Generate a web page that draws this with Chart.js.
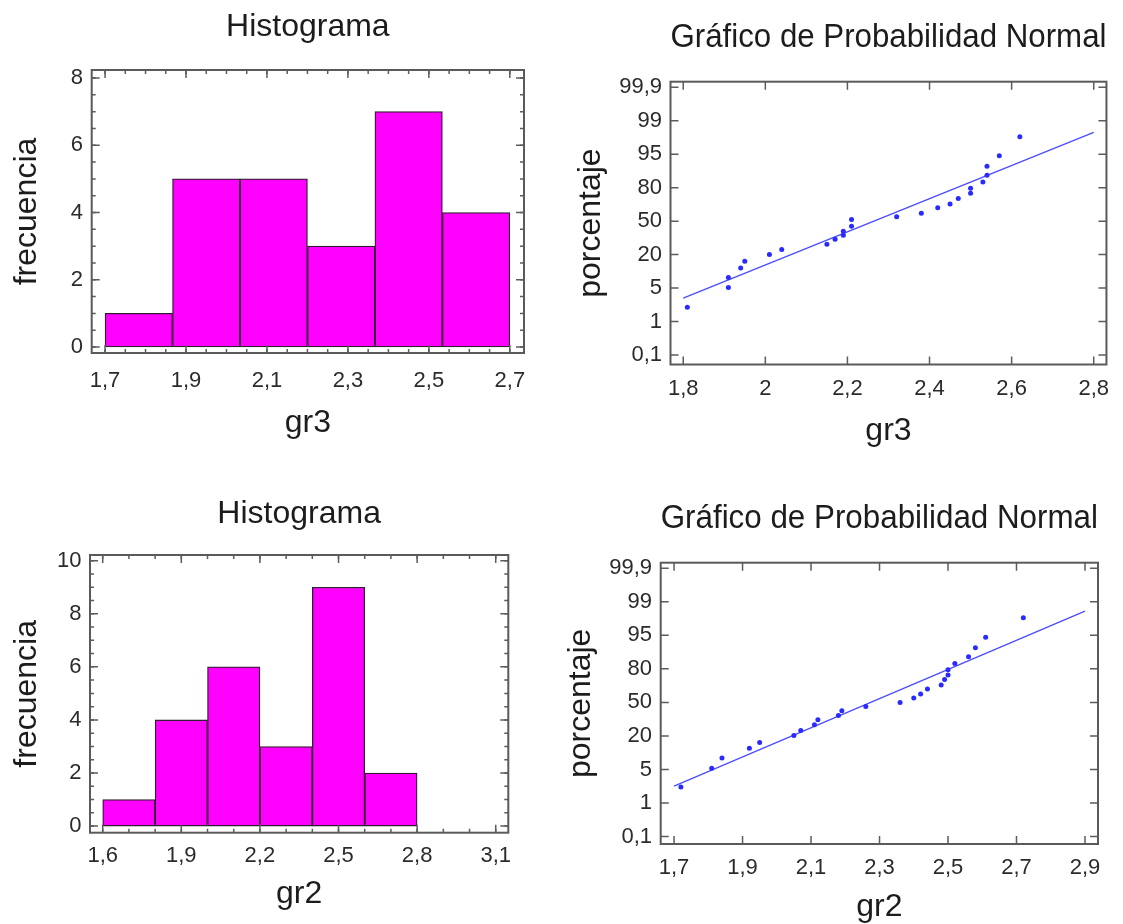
<!DOCTYPE html>
<html>
<head>
<meta charset="utf-8">
<script src="https://cdn.jsdelivr.net/npm/chart.js@4.4.0/dist/chart.umd.min.js"></script>
<style>
html,body{margin:0;padding:0;background:#fff;}
#wrap{position:relative;width:1123px;height:924px;overflow:hidden;background:#fff;}
#wrap canvas{position:absolute;left:0;top:0;}
</style>
</head>
<body>
<div id="wrap">
<canvas id="c1" width="1123" height="924"></canvas>
<canvas id="c2" width="1123" height="924"></canvas>
<canvas id="c3" width="1123" height="924"></canvas>
<canvas id="c4" width="1123" height="924"></canvas>
</div>
<script>
// ---------------- DATA ----------------
const histTitle = 'Histograma';
const probTitle = 'Gráfico de Probabilidad Normal';
const freqLabel = 'frecuencia';
const pctLabel = 'porcentaje';

// gr3 histogram
const gr3BinEdges = [1.7, 1.8667, 2.0333, 2.2, 2.3667, 2.5333, 2.7];
const gr3Counts = [1, 5, 5, 3, 7, 4];
const gr3HistXTicks = [1.7, 1.9, 2.1, 2.3, 2.5, 2.7];
const gr3HistYTicks = [0, 2, 4, 6, 8];

// gr2 histogram
const gr2BinEdges = [1.6, 1.8, 2.0, 2.2, 2.4, 2.6, 2.8];
const gr2Counts = [1, 4, 6, 3, 9, 2];
const gr2HistXTicks = [1.6, 1.9, 2.2, 2.5, 2.8, 3.1];
const gr2HistYTicks = [0, 2, 4, 6, 8, 10];

// normal probability axis labels (percent)
const probTickLabels = [0.1, 1, 5, 20, 50, 80, 95, 99, 99.9];

// gr3 normal probability plot
const gr3Values = [1.81, 1.91, 1.91, 1.94, 1.95, 2.01, 2.04, 2.15, 2.17, 2.19, 2.19, 2.21, 2.21, 2.32, 2.38, 2.42, 2.45, 2.47, 2.50, 2.50, 2.53, 2.54, 2.54, 2.57, 2.62];
const gr3Percent = [2.7, 5.2, 9.7, 14, 17, 20, 24.5, 29.3, 33.8, 37.4, 41, 45.5, 51.5, 54, 57, 62, 65.3, 70.4, 75, 79.4, 82.6, 85.6, 89.6, 94.3, 97.1];
const gr3FitX = [1.8, 2.8];
const gr3FitPercent = [3.8, 97.6];
const gr3ProbXTicks = [1.8, 2.0, 2.2, 2.4, 2.6, 2.8];

// gr2 normal probability plot
const gr2Values = [1.72, 1.81, 1.84, 1.92, 1.95, 2.05, 2.07, 2.11, 2.12, 2.18, 2.19, 2.26, 2.36, 2.40, 2.42, 2.44, 2.48, 2.49, 2.50, 2.50, 2.52, 2.56, 2.58, 2.61, 2.72];
const gr2Percent = [2.9, 5.5, 10.1, 14.5, 17.1, 20.3, 24.8, 29.9, 34.4, 38.3, 42.5, 46.4, 50, 53.9, 57.5, 62, 65.5, 70.4, 74.5, 79.2, 82.4, 85.4, 89.5, 94.2, 97.1];
const gr2FitX = [1.7, 2.9];
const gr2FitPercent = [3.0, 97.9];
const gr2ProbXTicks = [1.7, 1.9, 2.1, 2.3, 2.5, 2.7, 2.9];

// ---------------- HELPERS ----------------
const W = 1123, H = 924;
Chart.defaults.font.family = "'Liberation Sans', Arial, sans-serif";

function fmt(v) {
  return String(Math.round(v * 10) / 10).replace('.', ',');
}
// percent -> position on the (equally spaced label) probability axis
function pctToPos(p) {
  const t = probTickLabels;
  for (let k = 0; k < t.length - 1; k++) {
    if (p <= t[k + 1]) return k + (p - t[k]) / (t[k + 1] - t[k]);
  }
  return t.length - 1;
}
function binCenters(edges) {
  return edges.slice(0, -1).map((e, i) => (e + edges[i + 1]) / 2);
}

const frameTicks = {
  id: 'frameTicks',
  afterDraw(chart, args, o) {
    const {ctx, chartArea: a, scales: {x, y}} = chart;
    ctx.save();
    ctx.strokeStyle = '#5c5c5c';
    ctx.lineWidth = 1.5;
    const xt = (v, len) => {
      const p = x.getPixelForValue(v);
      ctx.beginPath();
      ctx.moveTo(p, a.bottom); ctx.lineTo(p, a.bottom - len);
      ctx.moveTo(p, a.top); ctx.lineTo(p, a.top + len);
      ctx.stroke();
    };
    const yt = (v, len) => {
      const p = y.getPixelForValue(v);
      ctx.beginPath();
      ctx.moveTo(a.left, p); ctx.lineTo(a.left + len, p);
      ctx.moveTo(a.right, p); ctx.lineTo(a.right - len, p);
      ctx.stroke();
    };
    if (o.xMinor) {
      for (let v = o.xMinor.from; v <= o.xMinor.to + 1e-9; v += o.xMinor.step) xt(v, 4);
    }
    if (o.yMinor) {
      for (let v = o.yMinor.from; v <= o.yMinor.to + 1e-9; v += o.yMinor.step) yt(v, 4);
    }
    (o.xMajor || []).forEach(v => xt(v, 8));
    (o.yMajor || []).forEach(v => yt(v, 8));
    ctx.lineWidth = 2;
    ctx.strokeStyle = '#5a5a5a';
    ctx.strokeRect(a.left, a.top, a.right - a.left, a.bottom - a.top);
    ctx.restore();
  }
};

function buildOptions(g, o) {
  const ts = o.titleSize;
  return {
    responsive: false,
    animation: false,
    devicePixelRatio: 1,
    layout: {padding: {left: g.yTitleX - 16, right: W - g.right, top: 0, bottom: H - (g.xTitleY + 16)}},
    plugins: {
      legend: {display: false},
      tooltip: {enabled: false},
      title: {
        display: true, text: o.title, fullSize: false, color: '#1c1c1c',
        font: {size: ts, lineHeight: 1, weight: 'normal'},
        padding: {top: g.titleY - ts / 2, bottom: g.top - g.titleY - ts / 2}
      },
      frameTicks: o.frame
    },
    scales: {
      x: {
        type: 'linear', min: g.xMin, max: g.xMax, offset: false,
        afterBuildTicks: s => { s.ticks = o.xTicks.map(v => ({value: v})); },
        afterFit: s => { s.height = g.xTitleY + 16 - g.bottom; },
        ticks: {autoSkip: false, maxRotation: 0, minRotation: 0, padding: g.xLabelY - g.bottom - 11,
          color: '#2b2b2b', font: {size: 22, lineHeight: 1}, callback: v => fmt(v)},
        grid: {display: false, drawTicks: false},
        border: {display: false},
        title: {display: true, text: o.xTitle, color: '#1c1c1c', font: {size: 32, lineHeight: 1}, padding: 0}
      },
      y: {
        type: 'linear', min: g.yMin, max: g.yMax,
        afterBuildTicks: s => { s.ticks = o.yTicks.map(v => ({value: v})); },
        afterFit: s => { s.width = g.left - (g.yTitleX - 16); },
        ticks: {autoSkip: false, padding: g.left - g.yLabelRight, color: '#2b2b2b',
          font: {size: 22, lineHeight: 1}, callback: o.yFormat},
        grid: {display: false, drawTicks: false},
        border: {display: false},
        title: {display: true, text: o.yTitle, color: '#1c1c1c', font: {size: 32, lineHeight: 1}, padding: 0}
      }
    }
  };
}

function makeHist(id, g, edges, counts, xTicks, yTicks, xTitle) {
  const centers = binCenters(edges);
  new Chart(document.getElementById(id), {
    type: 'bar',
    data: {
      datasets: [{
        data: centers.map((c, i) => ({x: c, y: counts[i]})),
        backgroundColor: '#ff00ff',
        borderColor: '#2e1e2e',
        borderWidth: 1.3,
        borderSkipped: false,
        barPercentage: 1,
        categoryPercentage: 1
      }]
    },
    options: buildOptions(g, {
      title: histTitle, titleSize: 32, xTitle: xTitle, yTitle: freqLabel,
      xTicks: xTicks, yTicks: yTicks, yFormat: v => fmt(v),
      frame: {
        xMajor: xTicks, yMajor: yTicks,
        xMinor: g.xMinor, yMinor: g.yMinor
      }
    }),
    plugins: [frameTicks]
  });
}

function makeProb(id, g, vals, pcts, fitX, fitP, xTicks, xTitle) {
  const idxTicks = probTickLabels.map((p, i) => i);
  new Chart(document.getElementById(id), {
    type: 'scatter',
    data: {
      datasets: [
        {
          data: vals.map((v, i) => ({x: v, y: pctToPos(pcts[i])})),
          pointRadius: 2.5, pointBackgroundColor: '#2a2aff', pointBorderWidth: 0,
          showLine: false
        },
        {
          data: fitX.map((v, i) => ({x: v, y: pctToPos(fitP[i])})),
          showLine: true, pointRadius: 0, borderColor: '#4b4bff', borderWidth: 1.3, fill: false
        }
      ]
    },
    options: buildOptions(g, {
      title: probTitle, titleSize: 33, xTitle: xTitle, yTitle: pctLabel,
      xTicks: xTicks, yTicks: idxTicks, yFormat: v => fmt(probTickLabels[Math.round(v)]),
      frame: {xMajor: xTicks, yMajor: idxTicks}
    }),
    plugins: [frameTicks]
  });
}

// ---------------- PANELS ----------------
makeHist('c1', {
  left: 91.7, right: 524, top: 70, bottom: 353,
  xMin: 1.667, xMax: 2.735, yMin: -0.178, yMax: 8.238,
  titleY: 27, xLabelY: 381, xTitleY: 423, yTitleX: 27, yLabelRight: 83,
  xMinor: {from: 1.7, to: 2.7, step: 0.05}, yMinor: {from: 0, to: 8, step: 0.5}
}, gr3BinEdges, gr3Counts, gr3HistXTicks, gr3HistYTicks, 'gr3');

makeProb('c2', {
  left: 670.5, right: 1107.7, top: 81.7, bottom: 364.5,
  xMin: 1.769, xMax: 2.831, yMin: -0.284, yMax: 8.167,
  titleY: 38, xLabelY: 389, xTitleY: 431, yTitleX: 591, yLabelRight: 662
}, gr3Values, gr3Percent, gr3FitX, gr3FitPercent, gr3ProbXTicks, 'gr3');

makeHist('c3', {
  left: 90, right: 508.3, top: 555, bottom: 832.7,
  xMin: 1.5515, xMax: 3.148, yMin: -0.25, yMax: 10.215,
  titleY: 514, xLabelY: 856, xTitleY: 894, yTitleX: 27, yLabelRight: 81.5,
  xMinor: {from: 1.6, to: 3.1, step: 0.1}, yMinor: {from: 0, to: 10, step: 0.5}
}, gr2BinEdges, gr2Counts, gr2HistXTicks, gr2HistYTicks, 'gr2');

makeProb('c4', {
  left: 660.7, right: 1098, top: 562.7, bottom: 844,
  xMin: 1.661, xMax: 2.938, yMin: -0.224, yMax: 8.167,
  titleY: 519, xLabelY: 867.5, xTitleY: 907, yTitleX: 581, yLabelRight: 652
}, gr2Values, gr2Percent, gr2FitX, gr2FitPercent, gr2ProbXTicks, 'gr2');
</script>
</body>
</html>
